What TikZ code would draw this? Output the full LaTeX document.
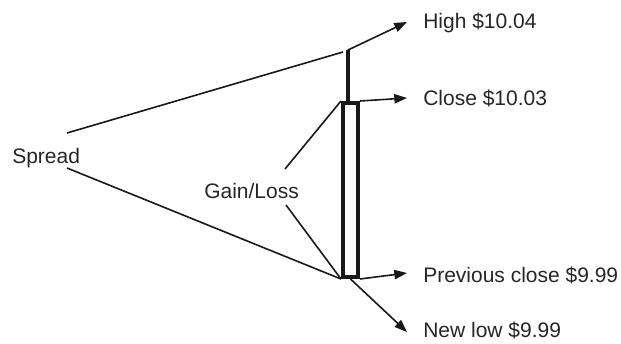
\documentclass[tikz,border=0pt]{standalone}
\usepackage{fontspec}
\setmainfont{Liberation Sans}
\usetikzlibrary{arrows.meta}

\begin{document}
\begin{tikzpicture}[x=0.75pt,y=-0.75pt,
    lbl/.style={font=\fontsize{15.75}{18}\selectfont,text=black!85,inner sep=0pt,anchor=base west},
    conn/.style={line width=1.2pt,color=black!90},
    tip/.style={-{Triangle[length=9.5pt,width=7pt]}},
    candle/.style={draw=black!90,line width=3pt,inner sep=0pt,minimum width=11.25pt,minimum height=130.5pt}]
   \useasboundingbox (0,0) rectangle (621,343);
   % candle
   \coordinate (wick) at (348,50);
   \node[candle] (body) at (350.5,190) {};
   \draw[draw=black!90,line width=3pt] (wick) -- (wick |- body.north);
   % arrow ends
   \coordinate (hiTip) at (407,22);
   \coordinate (clTip) at (407,98);
   \coordinate (pcTip) at (407,273);
   \coordinate (nlTip) at (407,332);
   % labels
   \node[lbl] (high)      at (423,28)  {High \$10.04};
   \node[lbl] (close)     at (423,105) {Close \$10.03};
   \node[lbl] (prevclose) at (423,282) {Previous close \$9.99};
   \node[lbl] (newlow)    at (423,337.5) {New low \$9.99};
   \node[lbl] (spread)    at (12,163)  {Spread};
   \node[lbl] (gainloss)  at (204,198) {Gain/Loss};
   % free ends of the plain lines
   \coordinate (spUp) at (67,133);
   \coordinate (spDown) at (67,168);
   \coordinate (wickLeft) at (343,52);
   \coordinate (glUp) at (285,169);
   \coordinate (glDown) at (286,205);
   \path[conn,tip]
    (wick) edge (hiTip)
    (body.north east) edge (clTip)
    (body.south east) edge (pcTip)
    (body.south) edge (nlTip);
   \path[conn]
    (spUp) edge (wickLeft)
    (spDown) edge (body.south west)
    (glUp) edge (body.north west)
    (glDown) edge (body.south west);
\end{tikzpicture}
\end{document}
